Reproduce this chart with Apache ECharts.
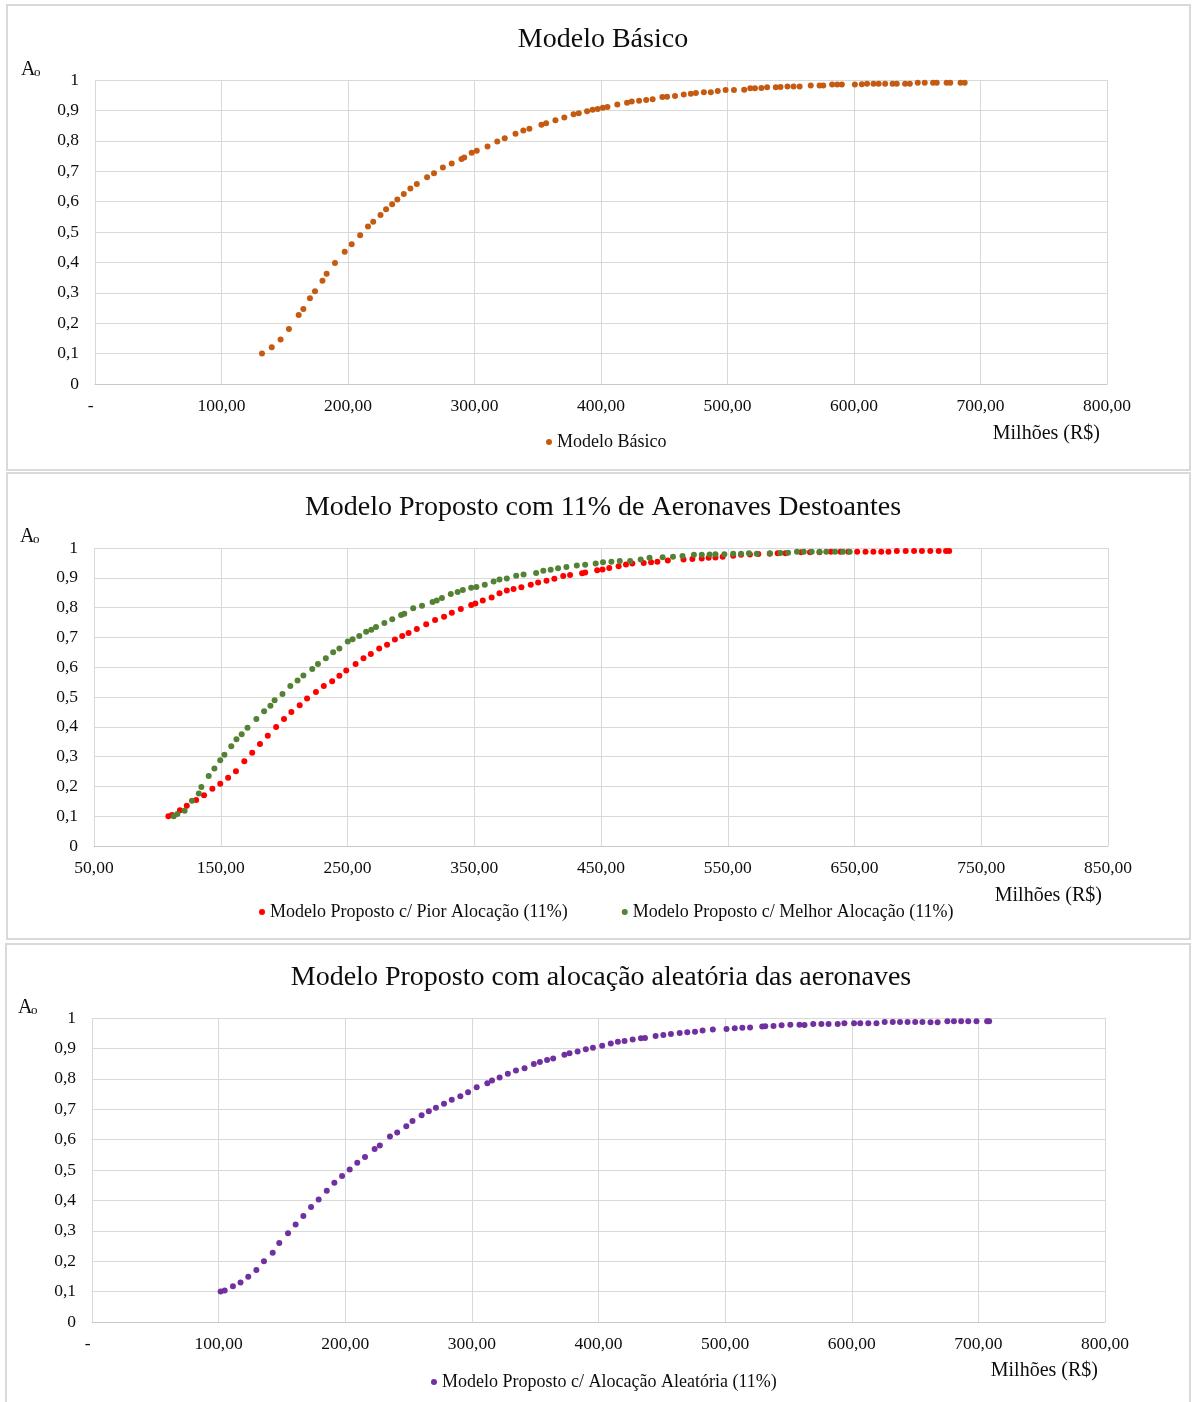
<!DOCTYPE html>
<html>
<head>
<meta charset="utf-8">
<script src="https://cdn.jsdelivr.net/npm/echarts@6/dist/echarts.min.js"></script>
<style>
  html, body { margin: 0; padding: 0; background: #fff; }
  #chart { width: 1194px; height: 1402px; }
</style>
</head>
<body>
<div id="chart"></div>
<script>
// Custo (milhões de R$) x disponibilidade operacional (Ao)

// Modelo Básico
const basicoX = [
  132.0,139.7,146.7,153.3,161.0,164.7,169.9,173.9,179.8,183.1,
  189.7,197.4,202.9,209.6,215.8,219.9,225.7,230.1,234.9,239.0,
  244.1,249.3,254.4,262.5,268.0,275.0,282.0,289.7,291.9,297.8,
  301.8,310.3,318.0,323.9,332.4,338.6,343.4,352.9,356.6,364.0,
  371.0,378.3,382.4,389.0,393.4,397.4,401.5,405.1,412.9,420.6,
  424.3,430.1,435.7,440.8,448.5,452.2,458.5,465.4,471.0,475.0,
  481.3,486.8,492.3,498.5,505.1,513.2,518.0,521.7,526.8,531.3,
  538.2,541.9,547.4,552.2,557.0,565.8,572.8,575.7,582.7,586.8,
  590.4,600.7,606.2,610.3,615.4,619.5,624.6,630.5,633.8,640.4,
  644.1,650.4,655.9,662.5,665.4,673.2,676.1,684.2,687.5
];
const basicoY = [
  0.100,0.121,0.146,0.181,0.227,0.247,0.282,0.305,0.340,0.363,
  0.398,0.435,0.460,0.489,0.518,0.534,0.556,0.575,0.591,0.607,
  0.625,0.643,0.658,0.680,0.693,0.712,0.725,0.740,0.745,0.761,
  0.767,0.781,0.798,0.808,0.823,0.834,0.840,0.853,0.858,0.868,
  0.877,0.887,0.891,0.897,0.902,0.905,0.909,0.911,0.919,0.925,
  0.929,0.932,0.934,0.937,0.944,0.945,0.947,0.952,0.955,0.957,
  0.960,0.960,0.964,0.967,0.967,0.968,0.973,0.973,0.974,0.976,
  0.976,0.977,0.979,0.979,0.979,0.982,0.982,0.982,0.985,0.985,
  0.985,0.985,0.986,0.988,0.988,0.988,0.988,0.988,0.988,0.988,
  0.988,0.991,0.991,0.991,0.991,0.991,0.991,0.991,0.991
];

// Modelo Proposto c/ Pior Alocação (11%)
const piorX = [
  108.7,111.6,117.8,123.2,130.6,136.8,143.4,149.6,155.8,162.0,
  168.6,174.8,180.9,187.1,193.7,199.9,205.7,212.3,218.1,225.1,
  231.3,237.9,243.6,249.0,256.4,262.6,268.4,275.0,281.2,287.4,
  293.2,298.2,304.7,312.1,319.1,326.2,332.3,339.4,347.6,350.9,
  356.7,363.7,369.9,375.7,381.0,387.2,394.6,400.4,407.0,413.2,
  420.2,425.6,435.1,437.5,447.0,451.2,456.5,463.9,469.7,474.7,
  483.7,489.5,494.5,502.7,515.1,522.1,529.5,534.9,540.3,546.0,
  554.3,560.5,567.5,574.1,583.2,589.4,595.5,607.9,614.9,622.4,
  631.4,638.9,645.1,652.1,658.7,664.9,671.1,676.8,683.4,690.4,
  697.0,703.2,709.8,716.4,722.2,724.7
];
const piorY = [
  0.100,0.104,0.120,0.135,0.154,0.170,0.192,0.209,0.229,0.251,
  0.284,0.313,0.342,0.370,0.399,0.426,0.450,0.472,0.495,0.517,
  0.537,0.553,0.571,0.589,0.611,0.630,0.644,0.663,0.675,0.693,
  0.705,0.715,0.728,0.744,0.758,0.769,0.783,0.795,0.809,0.814,
  0.824,0.834,0.848,0.857,0.862,0.868,0.877,0.884,0.890,0.897,
  0.906,0.909,0.915,0.918,0.925,0.928,0.933,0.939,0.945,0.948,
  0.950,0.952,0.954,0.958,0.961,0.963,0.965,0.967,0.968,0.971,
  0.974,0.977,0.978,0.980,0.981,0.982,0.982,0.986,0.986,0.986,
  0.987,0.987,0.987,0.987,0.987,0.987,0.987,0.987,0.990,0.990,
  0.990,0.990,0.990,0.990,0.990,0.990
];

// Modelo Proposto c/ Melhor Alocação (11%)
const melhorX = [
  112.9,115.8,121.5,127.3,132.7,134.7,140.5,145.0,149.6,152.9,
  158.3,162.4,166.5,171.1,178.1,184.2,189.2,192.5,198.7,204.9,
  210.6,215.2,222.2,226.7,232.9,238.7,243.6,250.2,254.0,259.3,
  264.7,268.8,272.5,279.1,285.3,292.3,294.8,301.8,308.8,317.1,
  320.4,324.5,331.5,336.9,341.0,347.6,351.7,358.3,365.3,369.9,
  375.7,383.1,388.9,398.8,404.5,410.3,416.1,422.7,430.9,437.5,
  445.8,451.6,458.2,464.8,473.0,481.3,488.3,498.6,506.8,514.3,
  523.3,529.5,535.7,540.3,547.3,554.3,560.5,566.7,572.9,583.2,
  591.5,597.6,604.6,610.0,616.2,622.4,627.7,634.7,640.9,646.2
];
const melhorY = [
  0.100,0.107,0.118,0.152,0.176,0.198,0.235,0.260,0.288,0.306,
  0.335,0.358,0.375,0.397,0.426,0.452,0.471,0.489,0.510,0.537,
  0.555,0.572,0.594,0.611,0.630,0.650,0.663,0.686,0.694,0.705,
  0.719,0.726,0.735,0.748,0.761,0.775,0.779,0.798,0.806,0.819,
  0.824,0.832,0.846,0.852,0.859,0.867,0.869,0.877,0.888,0.894,
  0.898,0.907,0.911,0.916,0.924,0.927,0.932,0.936,0.941,0.944,
  0.948,0.952,0.954,0.956,0.956,0.961,0.967,0.969,0.971,0.973,
  0.977,0.977,0.978,0.979,0.979,0.981,0.981,0.982,0.981,0.982,
  0.983,0.984,0.987,0.987,0.987,0.987,0.987,0.987,0.987,0.987
];

// Modelo Proposto c/ Alocação Aleatória (11%)
const aleatoriaX = [
  101.6,104.8,111.3,117.3,123.4,129.8,135.8,142.7,147.9,154.8,
  160.8,166.9,173.0,179.0,185.4,191.4,197.5,203.5,209.5,215.6,
  223.2,227.3,235.3,241.0,248.2,253.1,260.3,266.0,271.6,278.0,
  284.1,290.9,297.0,303.8,312.2,315.9,321.9,328.4,334.8,341.6,
  348.9,353.7,359.4,364.2,373.1,377.1,383.5,390.0,395.6,402.9,
  409.7,415.3,420.6,427.0,433.5,436.7,445.1,451.2,457.2,464.1,
  470.1,476.2,482.2,490.3,501.1,507.6,513.6,519.7,529.3,531.7,
  538.2,544.6,551.5,558.7,562.7,569.6,576.0,581.7,588.9,594.2,
  601.8,606.7,613.1,619.5,626.0,632.4,638.1,644.1,650.1,655.8,
  662.2,667.8,675.5,680.7,686.4,692.0,698.5,706.9,708.5
];
const aleatoriaY = [
  0.100,0.104,0.118,0.130,0.149,0.171,0.200,0.228,0.260,0.292,
  0.321,0.349,0.378,0.403,0.432,0.458,0.480,0.502,0.524,0.543,
  0.569,0.581,0.610,0.623,0.644,0.661,0.680,0.693,0.705,0.718,
  0.731,0.743,0.756,0.772,0.785,0.794,0.804,0.817,0.827,0.835,
  0.849,0.855,0.862,0.867,0.879,0.884,0.890,0.897,0.902,0.909,
  0.916,0.922,0.924,0.929,0.933,0.934,0.941,0.944,0.947,0.951,
  0.953,0.955,0.959,0.962,0.964,0.966,0.968,0.969,0.972,0.973,
  0.974,0.976,0.978,0.978,0.977,0.980,0.980,0.980,0.980,0.983,
  0.983,0.983,0.983,0.983,0.987,0.987,0.987,0.987,0.987,0.987,
  0.986,0.986,0.989,0.989,0.989,0.989,0.989,0.989,0.989
];

// Axis tick values
const yMin = 0, yMax = 1, yStep = 0.1;
const xTicks1 = { min: 0, max: 800, step: 100 };
const xTicks2 = { min: 50, max: 850, step: 100 };
const xTicks3 = { min: 0, max: 800, step: 100 };

const titles = [
  'Modelo Básico',
  'Modelo Proposto com 11% de Aeronaves Destoantes',
  'Modelo Proposto com alocação aleatória das aeronaves'
];
const seriesNames = [
  'Modelo Básico',
  'Modelo Proposto c/ Pior Alocação (11%)',
  'Modelo Proposto c/ Melhor Alocação (11%)',
  'Modelo Proposto c/ Alocação Aleatória (11%)'
];
const xAxisTitle = 'Milhões (R$)';

const FONT = '"Liberation Serif", "Times New Roman", serif';
const TEXT = '#0d0d0d';
const GRID = '#d9d9d9';

const zip = (xs, ys) => xs.map((x, i) => [x, ys[i]]);

function xLabel(dashAtZero) {
  return v => (dashAtZero && v === 0) ? '-\u2002' : v.toFixed(2).replace('.', ',');
}
function yLabel(v) {
  const r = Math.round(v * 10) / 10;
  if (r === 0) return '0';
  if (r === 1) return '1';
  return r.toFixed(1).replace('.', ',');
}

// Panel geometry (pixels)
const panels = [
  { box: [7, 5, 1183, 465],   grid: { left: 95, top: 80,   width: 1012, height: 304 }, titleY: 40,  aoY: 60,  aoX: 21, nameX: 1100, nameY: 434,  legendLeft: 546, legendTop: 433 },
  { box: [7, 473, 1183, 466], grid: { left: 94, top: 548,  width: 1014, height: 298 }, titleY: 508, aoY: 527, aoX: 20, nameX: 1102, nameY: 896,  legendLeft: 259, legendTop: 903 },
  { box: [6, 944, 1184, 470], grid: { left: 92, top: 1018, width: 1013, height: 304 }, titleY: 978, aoY: 998, aoX: 18, nameX: 1098, nameY: 1371, legendLeft: 431, legendTop: 1373 }
];
const titleCenters = [603, 603, 601];
const xTicks = [xTicks1, xTicks2, xTicks3];

const graphic = [];
panels.forEach((p, i) => {
  graphic.push({
    type: 'rect', z: 0, silent: true,
    shape: { x: p.box[0], y: p.box[1], width: p.box[2], height: p.box[3] },
    style: { fill: 'none', stroke: GRID, lineWidth: 2 }
  });
  graphic.push({
    type: 'text', silent: true,
    style: { text: titles[i], x: titleCenters[i], y: p.titleY, align: 'center', verticalAlign: 'middle',
             fill: TEXT, font: '28px ' + FONT }
  });
  // A with subscript o
  graphic.push({
    type: 'text', silent: true,
    style: { text: 'A', x: p.aoX, y: p.aoY, align: 'left', verticalAlign: 'top',
             fill: TEXT, font: '20px ' + FONT }
  });
  graphic.push({
    type: 'text', silent: true,
    style: { text: 'o', x: p.aoX + 13, y: p.aoY + 6, align: 'left', verticalAlign: 'top',
             fill: TEXT, font: '13px ' + FONT }
  });
  graphic.push({
    type: 'text', silent: true,
    style: { text: xAxisTitle, x: p.nameX, y: p.nameY, align: 'right', verticalAlign: 'middle',
             fill: TEXT, font: '20px ' + FONT }
  });
});

const grid = panels.map(p => Object.assign({ containLabel: false, outerBoundsMode: 'none' }, p.grid));

const xAxis = panels.map((p, i) => ({
  type: 'value', gridIndex: i,
  min: xTicks[i].min, max: xTicks[i].max, interval: xTicks[i].step,
  axisLine: { show: true, lineStyle: { color: '#c8c8c8', width: 1 } },
  axisTick: { show: false },
  splitLine: { show: true, lineStyle: { color: GRID, width: 1 } },
  axisLabel: { formatter: xLabel(i !== 1), color: TEXT, fontFamily: FONT, fontSize: 17.5, margin: 13 }
}));

const yAxis = panels.map((p, i) => ({
  type: 'value', gridIndex: i,
  min: yMin, max: yMax, interval: yStep,
  axisLine: { show: false },
  axisTick: { show: false },
  splitLine: { show: true, lineStyle: { color: GRID, width: 1 } },
  axisLabel: { formatter: yLabel, color: TEXT, fontFamily: FONT, fontSize: 17.5, margin: 16 }
}));

function scatter(name, data, color, idx) {
  return {
    name, type: 'scatter', data, xAxisIndex: idx, yAxisIndex: idx,
    symbol: 'circle', symbolSize: 6, silent: true,
    itemStyle: { color, opacity: 1 },
    emphasis: { disabled: true }
  };
}

const series = [
  scatter(seriesNames[0], zip(basicoX, basicoY), '#C55A11', 0),
  scatter(seriesNames[1], zip(piorX, piorY), '#FF0000', 1),
  scatter(seriesNames[2], zip(melhorX, melhorY), '#548235', 1),
  scatter(seriesNames[3], zip(aleatoriaX, aleatoriaY), '#7030A0', 2)
];

const legendBase = {
  orient: 'horizontal', icon: 'circle', itemWidth: 6, itemHeight: 6, padding: 0,
  selectedMode: false,
  textStyle: { fontFamily: FONT, fontSize: 18, color: TEXT }
};
const legend = [
  Object.assign({}, legendBase, { data: [seriesNames[0]], left: panels[0].legendLeft, top: panels[0].legendTop }),
  Object.assign({}, legendBase, { data: [seriesNames[1], seriesNames[2]], left: panels[1].legendLeft, top: panels[1].legendTop, itemGap: 54 }),
  Object.assign({}, legendBase, { data: [seriesNames[3]], left: panels[2].legendLeft, top: panels[2].legendTop })
];

const chart = echarts.init(document.getElementById('chart'), null, { renderer: 'canvas' });
chart.setOption({
  animation: false,
  backgroundColor: '#ffffff',
  grid, xAxis, yAxis, series, legend, graphic
});
</script>
</body>
</html>
